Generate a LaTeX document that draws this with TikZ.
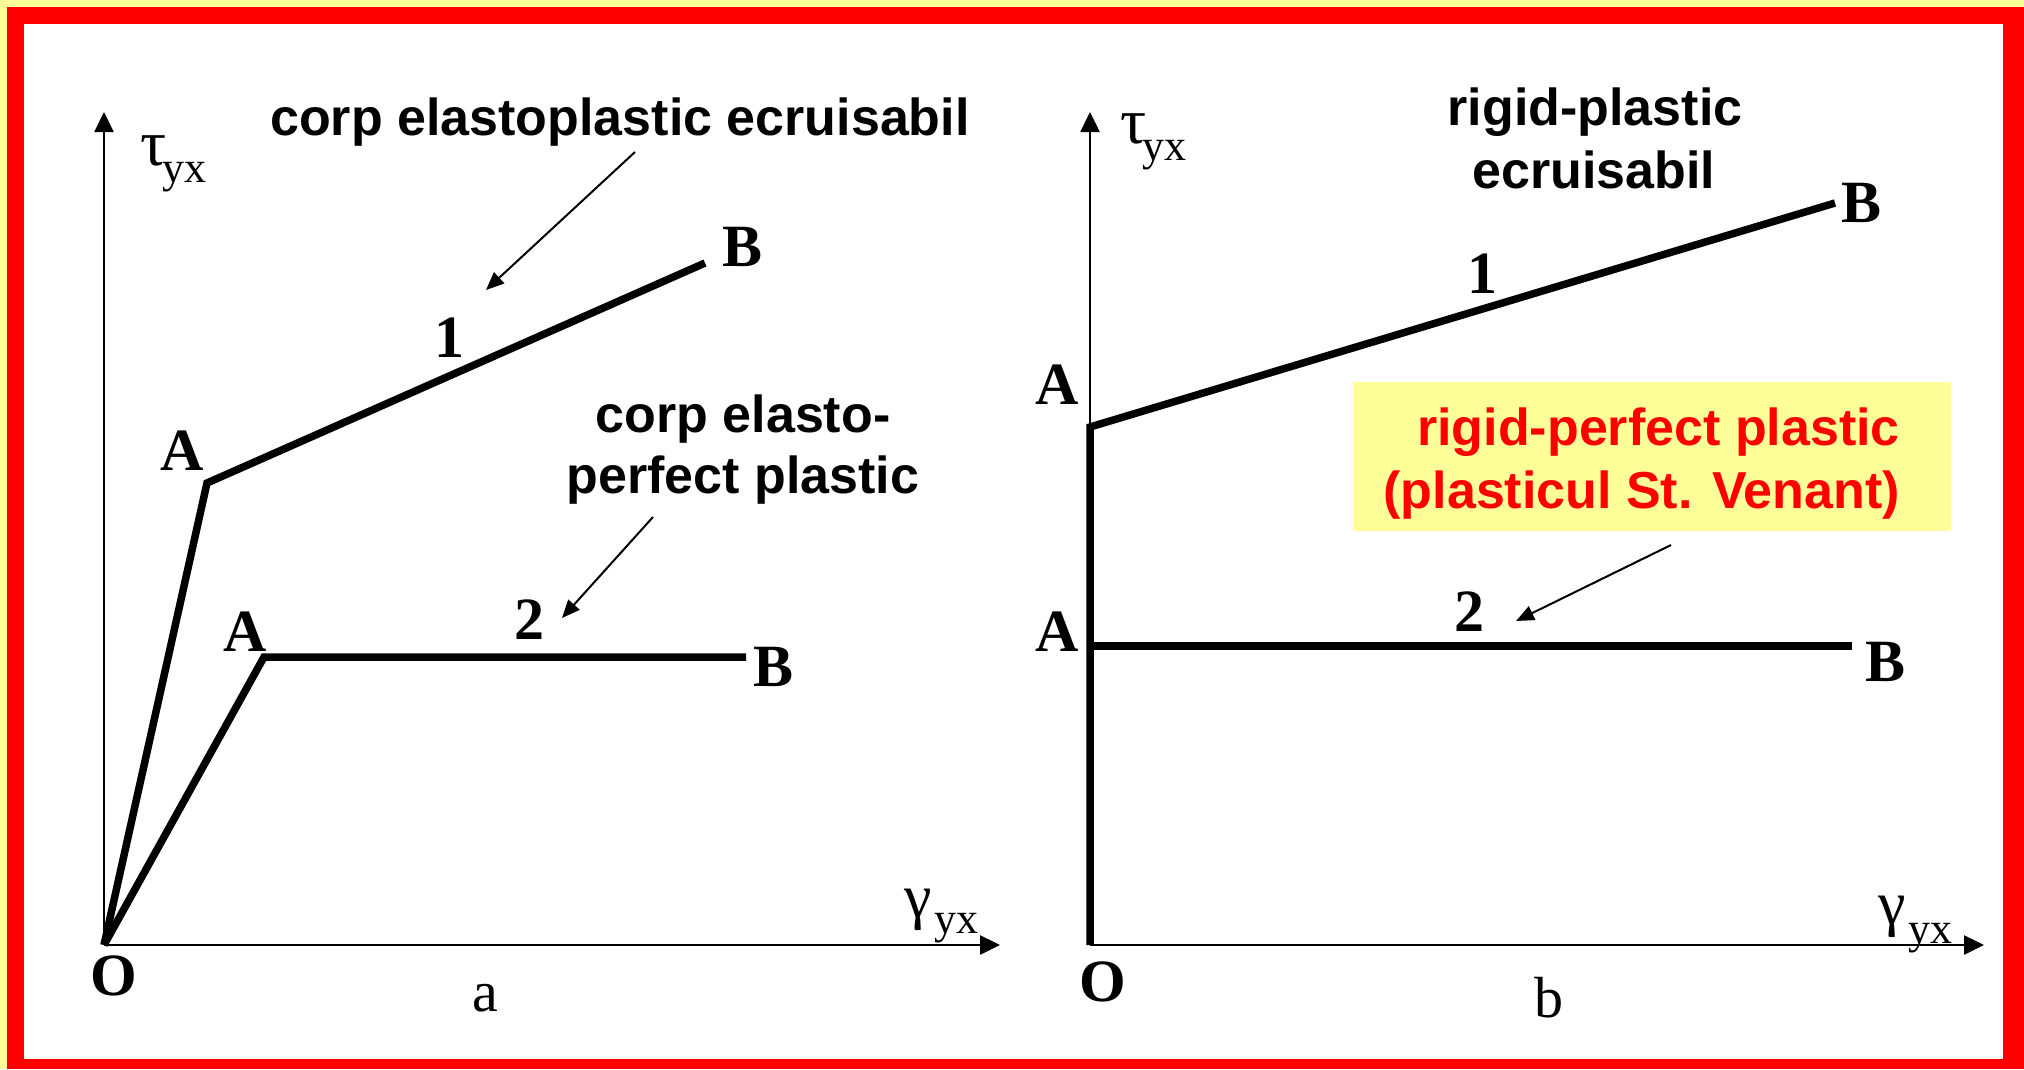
\documentclass[tikz,border=0pt]{standalone}
\usepackage{fontspec}
\setmainfont{Liberation Serif}
\newfontfamily\sansf{Liberation Sans}
\usetikzlibrary{arrows.meta}
\definecolor{paleyellow}{RGB}{255,255,153}
\definecolor{framered}{RGB}{255,0,0}
\begin{document}
\begin{tikzpicture}[x=1pt,y=-1pt,
  axis/.style={line width=2.5pt,-{Triangle[length=20pt,width=19pt]}},
  curve/.style={line width=7.5pt},
  thinarrow/.style={line width=2pt,-{Triangle[length=18pt,width=15pt]}},
  ptlabel/.style={font=\fontsize{60}{60}\selectfont\bfseries,inner sep=0pt},
  sublabel/.style={font=\fontsize{58}{58}\selectfont,inner sep=0pt},
  greek/.style={font=\fontsize{65}{65}\selectfont,inner sep=0pt,anchor=base west},
  idx/.style={font=\fontsize{44}{44}\selectfont,inner sep=0pt,anchor=base west},
  note/.style={font=\fontsize{52}{62}\selectfont\sansf\bfseries,inner sep=0pt,anchor=base},
  rednote/.style={font=\fontsize{52}{62}\selectfont\sansf\bfseries,inner sep=0pt,anchor=base east,text=framered}
]
% frame
\useasboundingbox (0,0) rectangle (2024,1069);
\fill[paleyellow] (0,0) rectangle (2024,1069);
\fill[framered] (7,7) rectangle (2024,1069);
\fill[white] (24,24) rectangle (2003,1059);

% ---------- left panel ----------
\coordinate (OL) at (104,945);
\coordinate (YL) at (104,112);
\coordinate (XL) at (1000,945);
\coordinate (A1L) at (207,483);
\coordinate (B1L) at (705,263);
\coordinate (A2L) at (264,657);
\coordinate (B2L) at (746,657);
\draw[axis] (OL) -- (YL);
\draw[axis] (OL) -- (XL);
\draw[curve] (OL) -- (A1L) -- (B1L);
\draw[curve] (OL) -- (A2L) -- (B2L);

\node[greek] (tauL) at (140,165) {τ};
\node[idx] (tauLi) at (162,182) {yx};
\node[greek,font=\fontsize{62}{62}\selectfont] (gamL) at (904,917) {γ};
\node[idx] (gamLi) at (934,933) {yx};

\node[ptlabel] (lA1) at (182,451) {A};
\node[ptlabel] (lB1) at (743,247) {B};
\node[ptlabel] (lA2) at (245,632) {A};
\node[ptlabel] (lB2) at (774,667) {B};
\node[ptlabel] (l1) at (449,338) {1};
\node[ptlabel] (l2) at (529,620) {2};
\node[ptlabel] (lO) at (114,976) {O};
\node[sublabel] (la) at (485,998) {a};

\node[note] (noteL1) at (620,135) {corp elastoplastic ecruisabil};
\node[note] (noteL2a) at (743,432) {corp elasto-};
\node[note] (noteL2b) at (743,493) {perfect plastic};

\coordinate (arL1s) at (635,152);
\coordinate (arL1e) at (486,290);
\coordinate (arL2s) at (653,517);
\coordinate (arL2e) at (562,618);
\draw[thinarrow] (arL1s) -- (arL1e);
\draw[thinarrow] (arL2s) -- (arL2e);

% ---------- right panel ----------
\coordinate (OR) at (1090,945);
\coordinate (YR) at (1090,112);
\coordinate (XR) at (1984,945);
\coordinate (A1R) at (1090,427);
\coordinate (B1R) at (1835,203);
\coordinate (A2R) at (1090,646);
\coordinate (B2R) at (1852,646);
\draw[axis] (OR) -- (YR);
\draw[axis] (OR) -- (XR);
\draw[curve] (OR) -- (A1R) -- (B1R);
\draw[curve] (A2R) -- (B2R);

\node[greek] (tauR) at (1120,143) {τ};
\node[idx] (tauRi) at (1142,160) {yx};
\node[greek,font=\fontsize{62}{62}\selectfont] (gamR) at (1878,924) {γ};
\node[idx] (gamRi) at (1908,943) {yx};

\node[ptlabel] (rA1) at (1057,385) {A};
\node[ptlabel] (rB1) at (1861,203) {B};
\node[ptlabel] (rA2) at (1057,632) {A};
\node[ptlabel] (rB2) at (1885,662) {B};
\node[ptlabel] (r1) at (1482,274) {1};
\node[ptlabel] (r2) at (1469,612) {2};
\node[ptlabel] (rO) at (1103,982) {O};
\node[sublabel] (rb) at (1549,998) {b};

\node[note] (noteR1a) at (1595,125) {rigid-plastic};
\node[note] (noteR1b) at (1594,188) {ecruisabil};

\node[fill=paleyellow,inner sep=0pt,minimum width=598pt,minimum height=149pt] (box) at (1652,456.5) {};
\node[rednote] (boxl1) at (1900,445) {rigid-perfect plastic};
\node[rednote] (boxl2) at (1900,508) {(plasticul St. Venant)};

\coordinate (arRs) at (1671,545);
\coordinate (arRe) at (1516,621);
\draw[thinarrow] (arRs) -- (arRe);
\end{tikzpicture}
\end{document}
